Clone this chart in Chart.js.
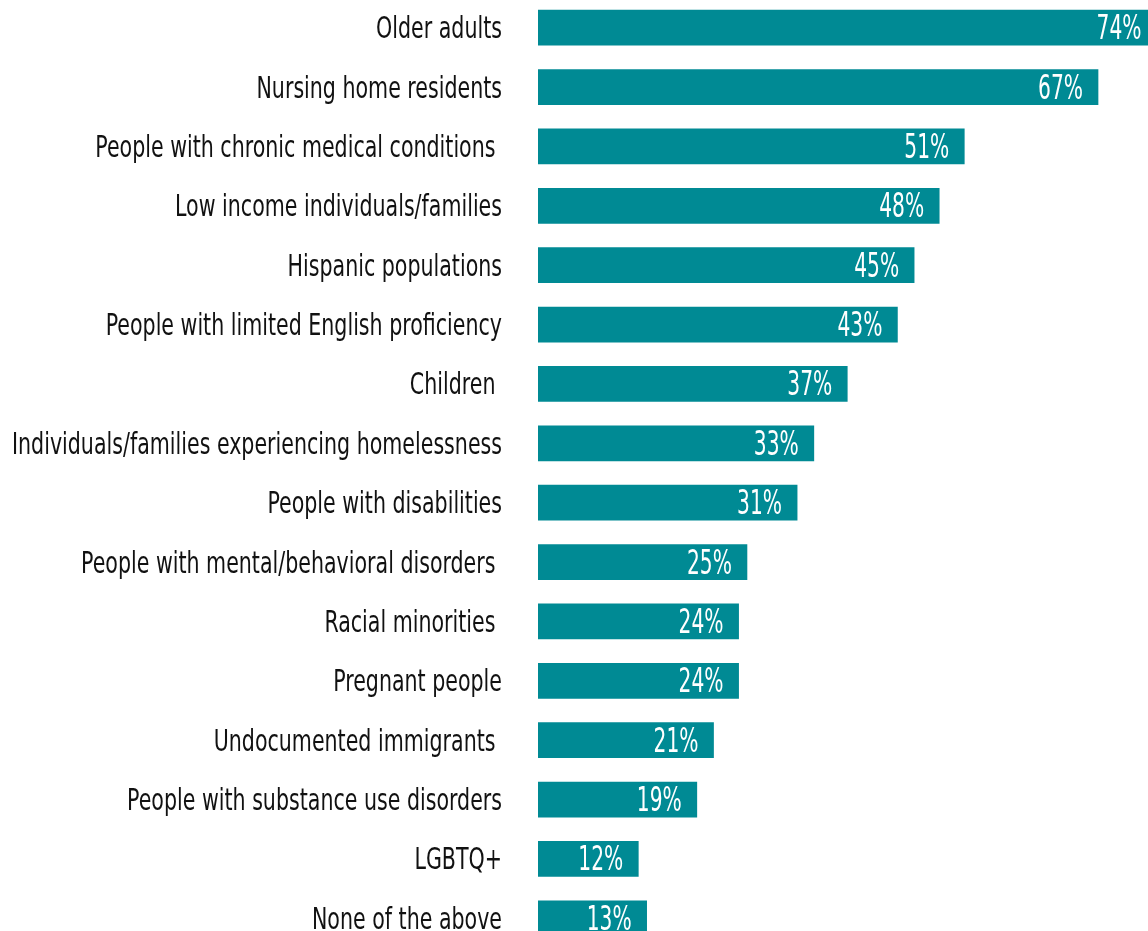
<!DOCTYPE html>
<html>
<head>
<meta charset="utf-8">
<script src="https://cdn.jsdelivr.net/npm/chart.js@4.4.1/dist/chart.umd.min.js"></script>
<style>
  html, body { margin: 0; padding: 0; background: #fff; overflow: hidden; width: 1148px; height: 931px; }
  #groupsChart { position: absolute; left: 0; top: -2px; }
</style>
</head>
<body>
<canvas id="groupsChart" width="1200" height="950"></canvas>
<script>
const canvas = document.getElementById("groupsChart");
const ctx = canvas.getContext("2d");

// Groups (trailing spaces kept as in the source labels)
const groups = [
    "Older adults",
    "Nursing home residents",
    "People with chronic medical conditions ",
    "Low income individuals/families",
    "Hispanic populations",
    "People with limited English proficiency",
    "Children ",
    "Individuals/families experiencing homelessness",
    "People with disabilities",
    "People with mental/behavioral disorders ",
    "Racial minorities ",
    "Pregnant people",
    "Undocumented immigrants ",
    "People with substance use disorders",
    "LGBTQ+",
    "None of the above",
];

// Percent of respondents
const percents = [74, 67, 51, 48, 45, 43, 37, 33, 31, 25, 24, 24, 21, 19, 12, 13];

const TEAL = "#008a94";
const FONT = "'DejaVu Sans Condensed', 'DejaVu Sans', sans-serif";

// the source font is a narrow condensed face, so squeeze the text horizontally
function squeezedText(c, text, x, y, sx) {
    c.save();
    c.translate(x, y);
    c.scale(sx, 1);
    c.fillText(text, 0, 0);
    c.restore();
}

// category names, right aligned next to the bars
const groupLabels = {
    id: "groupLabels",
    afterDraw(chart) {
        const c = chart.ctx;
        const yScale = chart.scales.y;
        c.save();
        c.fillStyle = "#111111";
        c.font = "29.5px " + FONT;
        c.textAlign = "right";
        c.textBaseline = "alphabetic";
        const longest = c.measureText("Individuals/families experiencing homelessness").width;
        const sx = 490 / longest;
        groups.forEach((g, i) => {
            const y = yScale.getPixelForValue(i);
            squeezedText(c, g, yScale.right - 36, y + 10.5, sx);
        });
        c.restore();
    },
};

// writes the % inside the end of each bar
const valueLabels = {
    id: "valueLabels",
    afterDatasetsDraw(chart) {
        const c = chart.ctx;
        const meta = chart.getDatasetMeta(0);
        c.save();
        c.fillStyle = "#ffffff";
        c.font = "33px " + FONT;
        c.textAlign = "right";
        c.textBaseline = "alphabetic";
        const sx = 45 / c.measureText("67%").width;
        meta.data.forEach((bar, i) => {
            squeezedText(c, percents[i] + "%", bar.x - 15, bar.y + 11.5, sx);
        });
        c.restore();
    },
};

window.myChart = new Chart(ctx, {
    type: "bar",
    data: {
        labels: groups,
        datasets: [{
            data: percents,
            backgroundColor: TEAL,
            borderWidth: 0,
            barThickness: 35,
        }],
    },
    options: {
        indexAxis: "y",
        responsive: false,
        animation: false,
        layout: { padding: 0 },
        plugins: {
            legend: { display: false },
            tooltip: { enabled: false },
        },
        scales: {
            x: {
                display: false,
                min: 0,
                max: 79.2,
            },
            y: {
                grid: { display: false },
                border: { display: false },
                ticks: { display: false },
                afterFit(scale) { scale.width = 538; },
            },
        },
    },
    plugins: [valueLabels, groupLabels],
});
</script>
</body>
</html>
